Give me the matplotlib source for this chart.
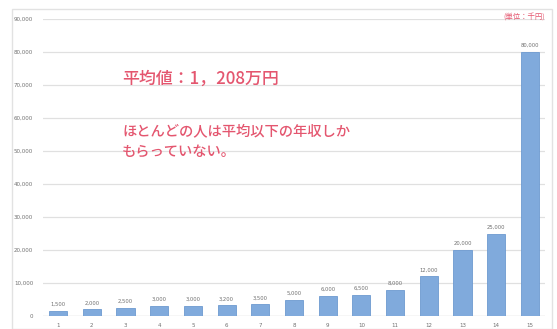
import matplotlib
matplotlib.use("Agg")
import matplotlib.pyplot as plt
from matplotlib.patches import Rectangle
from matplotlib.ticker import FuncFormatter, MultipleLocator

plt.rcParams['font.family'] = ['Noto Sans CJK JP', 'DejaVu Sans']

categories = [str(i) for i in range(1, 16)]
values = [1500, 2000, 2500, 3000, 3000, 3200, 3500, 5000, 6000, 6500,
          8000, 12000, 20000, 25000, 80000]
value_labels = ["1,500", "2,000", "2,500", "3,000", "3,000", "3,200", "3,500",
                "5,000", "6,000", "6,500", "8,000", "12,000", "20,000",
                "25,000", "80,000"]
note_mean = "平均値：1，208万円"
note_lines = ["ほとんどの人は平均以下の年収しか", "もらっていない。"]
unit_label = "(単位：千円)"

W, H = 557, 329
fig = plt.figure(figsize=(W / 100, H / 100), dpi=100)
fig.patch.set_facecolor("white")

# outer chart frame
fig.add_artist(Rectangle((12 / W, 0), 540 / W, 1 - 9 / H,
                         transform=fig.transFigure, fill=False,
                         edgecolor="#e2e2e2", linewidth=1.0))

ax = fig.add_axes([43 / W, 13 / H, 502 / W, 297 / H])
x = list(range(1, 16))
ax.bar(x, values, width=0.54, color="#80aadc", edgecolor="#6d9ad0",
       linewidth=0.6, zorder=3)

for xi, v, lab in zip(x, values, value_labels):
    ax.text(xi, v + 1200, lab, ha="center", va="bottom", fontsize=3.8,
            color="#707070", family="DejaVu Sans")

ax.set_xlim(0.55, 15.45)
ax.set_ylim(0, 90000)
ax.yaxis.set_major_locator(MultipleLocator(10000))
ax.yaxis.set_major_formatter(FuncFormatter(lambda v, p: f"{int(v):,}"))
ax.set_xticks(x)
ax.set_xticklabels(categories)
ax.tick_params(axis="both", length=0, labelsize=4.0, labelcolor="#707070")
ax.tick_params(axis="y", pad=7)
ax.tick_params(axis="x", pad=5)
for lab in ax.get_xticklabels() + ax.get_yticklabels():
    lab.set_family("DejaVu Sans")
ax.grid(axis="y", color="#e0e0e0", linewidth=0.9, zorder=0)
for s in ax.spines.values():
    s.set_visible(False)
ax.axhline(0, color="#d8d8d8", linewidth=0.9, zorder=2)

red = "#e4566f"
fig.text(122 / W, 1 - 79 / H, note_mean, fontsize=12.2, color=red,
         va="center", ha="left", fontweight="medium")
for i, line in enumerate(note_lines):
    fig.text(122 / W, 1 - (131 + 21 * i) / H, line, fontsize=10.3,
             color=red, va="center", ha="left", fontweight="medium")
fig.text(545 / W, 1 - 17 / H, unit_label, fontsize=5.3, color=red,
         va="center", ha="right")

fig.savefig("out.png", dpi=100, facecolor="white")
